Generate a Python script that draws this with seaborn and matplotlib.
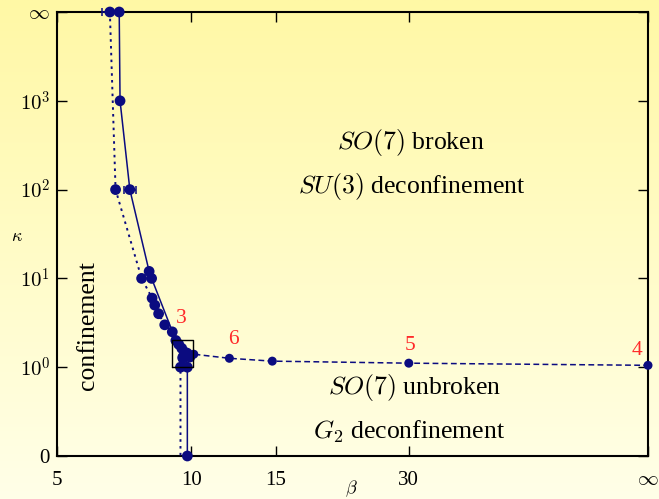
import numpy as np
import matplotlib
matplotlib.use("Agg")
import matplotlib.pyplot as plt
import seaborn as sns

INF = np.inf

# ---------------- data (beta, kappa) ----------------
solid_beta = [7.0, 7.03, 7.39, 8.14, 8.24, 9.28, 9.55, 9.75, 9.81, 9.81]
solid_kappa = [INF, 1000, 100, 12, 10, 2.0, 1.63, 1.40, 1.0, 0]
solid_err_beta = [7.39]
solid_err_kappa = [100]
solid_err = [0.22]

dotted_beta = [6.67, 6.87, 7.84, 8.26, 8.37, 8.53, 8.79, 9.12, 9.41, 9.60, 9.49, 9.49]
dotted_kappa = [INF, 100, 10, 6, 5, 4, 3, 2.5, 1.81, 1.30, 1.0, 0]
dotted_err_beta = [6.67]
dotted_err_kappa = [INF]
dotted_err = [0.27]

dashed_beta = [9.73, 10.12, 12.0, 14.74, 30.0, INF]
dashed_kappa = [1.33, 1.40, 1.26, 1.17, 1.11, 1.05]

cluster_beta = [9.69, 9.93, 9.80, 9.60, 9.88]
cluster_kappa = [1.47, 1.30, 1.44, 1.26, 1.36]

box_beta = [9.12, 10.10]
box_kappa = [1.0, 2.0]

x_ticks = [5, 10, 15, 30, INF]
x_ticklabels = ["5", "10", "15", "30", r"$\infty$"]
y_ticks = [0, 1, 10, 100, 1000, INF]
y_ticklabels = ["0", r"$10^0$", r"$10^1$", r"$10^2$", r"$10^3$", r"$\infty$"]

labels_text = ["3", "6", "5", "4"]
labels_beta = [9.12, 12.0, 30.0, INF]
labels_kappa = [2.5, 1.26, 1.11, 1.05]
labels_off = [(9, 13), (4, 19), (1, 18), (-11, 15)]


# ---------------- compactified axes ----------------
def bx(beta):
    b = np.asarray(beta, dtype=float)
    fin = np.where(np.isinf(b), 0.0, b)
    return np.where(np.isinf(b), 1.0, (fin - 5.0) / (fin + 12.0))


def ky(kappa):
    k = np.asarray(kappa, dtype=float)
    safe = np.where((k > 0) & np.isfinite(k), k, 1.0)
    return np.where(k <= 0, -1.0, np.where(np.isinf(k), 4.0, np.log10(safe)))


sns.set_theme(style="white")
plt.rcParams["font.family"] = ["Liberation Serif", "DejaVu Serif"]
plt.rcParams["mathtext.fontset"] = "cm"
for key in ["text.color", "axes.labelcolor", "xtick.color", "ytick.color", "xtick.labelcolor", "ytick.labelcolor"]:
    plt.rcParams[key] = "black"

W, H = 659, 499
fig = plt.figure(figsize=(W / 100, H / 100), dpi=100)

# background gradient
bg = fig.add_axes([0, 0, 1, 1], zorder=-10)
grad = np.linspace(0, 1, 256)[:, None]
c_top = np.array([255, 248, 165]) / 255
c_bot = np.array([255, 255, 232]) / 255
img = c_top[None, None, :] * (1 - grad[..., None]) + c_bot[None, None, :] * grad[..., None]
img = np.repeat(img, 2, axis=1)
bg.imshow(img, aspect="auto", extent=[0, 1, 0, 1])
bg.axis("off")

ax = fig.add_axes([57 / W, 1 - 456 / H, 591 / W, 444 / H])
ax.patch.set_alpha(0)

navy = "#0b0b80"

# solid
sns.lineplot(x=bx(solid_beta), y=ky(solid_kappa), sort=False, estimator=None,
             color=navy, lw=1.1, ax=ax, zorder=3)
sns.scatterplot(x=bx(solid_beta), y=ky(solid_kappa), color=navy, s=60,
                edgecolor="none", ax=ax, zorder=4, clip_on=False)
# dotted
sns.lineplot(x=bx(dotted_beta), y=ky(dotted_kappa), sort=False, estimator=None,
             color=navy, lw=1.4, ax=ax, zorder=3, dashes=False)
ax.lines[-1].set_dashes((1.3, 2.2))
sns.scatterplot(x=bx(dotted_beta[:-1]), y=ky(dotted_kappa[:-1]), color=navy, s=60,
                edgecolor="none", ax=ax, zorder=4, clip_on=False)
# dashed
sns.lineplot(x=bx(dashed_beta), y=ky(dashed_kappa), sort=False, estimator=None,
             color=navy, lw=1.1, ax=ax, zorder=3)
ax.lines[-1].set_dashes((3.8, 2.2))
sns.scatterplot(x=bx(dashed_beta[1:]), y=ky(dashed_kappa[1:]), color=navy, s=42,
                edgecolor="none", ax=ax, zorder=4, clip_on=False)
# cluster
sns.scatterplot(x=bx(cluster_beta), y=ky(cluster_kappa), color=navy, s=60,
                edgecolor="none", ax=ax, zorder=4)

# error bars
for eb, ek, ee in [(solid_err_beta, solid_err_kappa, solid_err),
                   (dotted_err_beta, dotted_err_kappa, dotted_err)]:
    b = np.array(eb)
    e = np.array(ee)
    xc = bx(b)
    lo = xc - bx(b - e)
    hi = bx(b + e) - xc
    ax.errorbar(xc, ky(ek), xerr=[lo, hi], fmt="none", ecolor=navy,
                elinewidth=1.1, capsize=3, capthick=1.1, zorder=4, clip_on=False)

# box
bx0, bx1 = bx(box_beta)
by0, by1 = ky(box_kappa)
ax.plot([bx0, bx1, bx1, bx0, bx0], [by0, by0, by1, by1, by0], color="black", lw=1.0, zorder=5)

# red labels
for t, b, k, off in zip(labels_text, labels_beta, labels_kappa, labels_off):
    ax.annotate(t, (float(bx(b)), float(ky(k))), xytext=off, textcoords="offset pixels",
                ha="center", va="center", color="#ff2a2a", fontsize=15.5)

ax.set_xlim(0, 1)
ax.set_ylim(-1, 4)
ax.set_xticks(bx(x_ticks))
ax.set_xticklabels(x_ticklabels)
ax.set_yticks(ky(y_ticks))
ax.set_yticklabels(y_ticklabels)
ax.tick_params(axis="both", which="major", direction="in", length=7, width=1.0,
               color="black", labelcolor="black", labelsize=15,
               top=True, right=True, bottom=True, left=True)
ax.tick_params(axis="x", pad=11)
ax.tick_params(axis="y", pad=5)
for sp in ax.spines.values():
    sp.set_color("black")
    sp.set_linewidth(1.5)
    sp.set_visible(True)

ax.set_xlabel(r"$\beta$", fontsize=13)
ax.xaxis.label.set_va("center")
ax.xaxis.set_label_coords(0.498, -0.074)
ax.set_ylabel(r"$\kappa$", fontsize=13, rotation=0)
ax.yaxis.label.set_ha("center")
ax.yaxis.label.set_va("center")
ax.yaxis.set_label_coords(-0.068, 0.495)

fs = 18.5
ax.text(0.598, 0.705, r"$SO(7)$ broken", transform=ax.transAxes, ha="center", va="center", fontsize=fs)
ax.text(0.600, 0.606, r"$SU(3)$ deconfinement", transform=ax.transAxes, ha="center", va="center", fontsize=fs)
ax.text(0.606, 0.155, r"$SO(7)$ unbroken", transform=ax.transAxes, ha="center", va="center", fontsize=fs)
ax.text(0.596, 0.054, r"$G_2$ deconfinement", transform=ax.transAxes, ha="center", va="center", fontsize=fs)
ax.text(0.052, 0.293, "confinement", transform=ax.transAxes, ha="center", va="center",
        fontsize=fs, rotation=90)

fig.savefig("out.png", dpi=100)
